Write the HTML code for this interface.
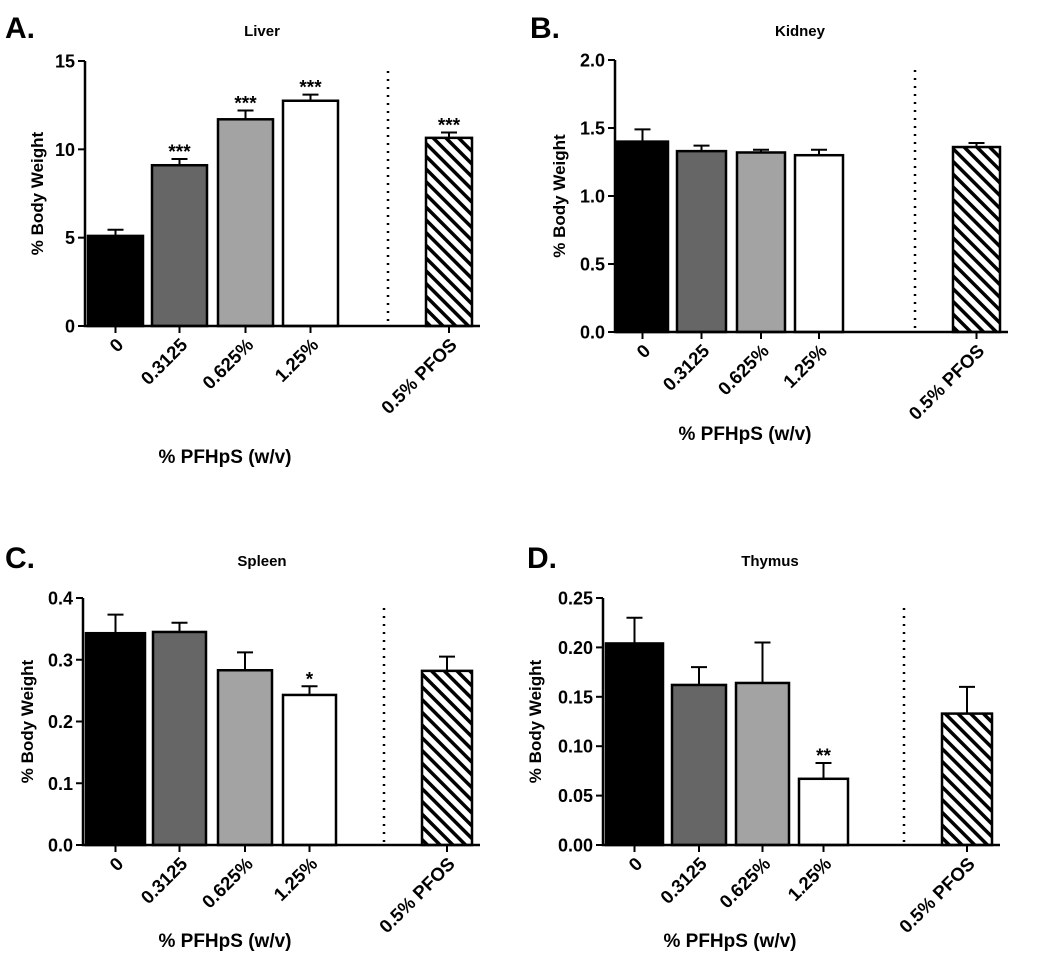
<!DOCTYPE html>
<html><head><meta charset="utf-8"><style>
body{margin:0;background:#fff;}
svg{display:block;font-family:"Liberation Sans",Arial,sans-serif;}
</style></head><body>
<svg id="c" width="1050" height="958" viewBox="0 0 1050 958">
<defs><pattern id="hatch" patternUnits="userSpaceOnUse" width="9" height="9" patternTransform="rotate(-45)"><rect width="9" height="9" fill="#fff"/><rect width="3.5" height="9" fill="#000"/></pattern></defs>
</svg>
<script>
const categories=["0","0.3125","0.625%","1.25%","0.5% PFOS"];
const liverValues=[5.1,9.1,11.7,12.75,10.65];
const liverErrors=[0.35,0.35,0.5,0.35,0.3];
const liverSig=["","***","***","***","***"];
const liverTicks=[0,5,10,15];
const kidneyValues=[1.40,1.33,1.32,1.30,1.36];
const kidneyErrors=[0.09,0.04,0.02,0.04,0.03];
const kidneySig=["","","","",""];
const kidneyTicks=["0.0","0.5","1.0","1.5","2.0"];
const spleenValues=[0.343,0.345,0.283,0.243,0.282];
const spleenErrors=[0.03,0.015,0.029,0.014,0.023];
const spleenSig=["","","","*",""];
const spleenTicks=["0.0","0.1","0.2","0.3","0.4"];
const thymusValues=[0.204,0.162,0.164,0.067,0.133];
const thymusErrors=[0.026,0.018,0.041,0.016,0.027];
const thymusSig=["","","","**",""];
const thymusTicks=["0.00","0.05","0.10","0.15","0.20","0.25"];
const fills=["#000","#666","#a3a3a3","#fff","url(#hatch)"];
const NS="http://www.w3.org/2000/svg";
const svg=document.getElementById('c');
function mk(tag,attrs,parent,text){const e=document.createElementNS(NS,tag);for(const k in attrs)e.setAttribute(k,attrs[k]);if(text!==undefined)e.textContent=text;(parent||svg).appendChild(e);return e;}
const panels=[
 {letter:"A.",lx:5,ly:38,title:"Liver",tx:262,ty:36,ax:85,y0:326,y1:61,max:15,ticks:liverTicks,vals:liverValues,errs:liverErrors,sig:liverSig,bars:[[88,143],[152,207],[218,273],[283,338],[426,472]],dot:388,xt:[225,463]},
 {letter:"B.",lx:530,ly:38,title:"Kidney",tx:800,ty:36,ax:615,y0:332,y1:60,max:2,ticks:kidneyTicks,vals:kidneyValues,errs:kidneyErrors,sig:kidneySig,bars:[[617,668],[677,726],[737,785],[795,843],[953,1000]],dot:915,xt:[745,440]},
 {letter:"C.",lx:5,ly:568,title:"Spleen",tx:262,ty:566,ax:83,y0:845,y1:598,max:0.4,ticks:spleenTicks,vals:spleenValues,errs:spleenErrors,sig:spleenSig,bars:[[86,145],[153,206],[218,272],[283,336],[422,472]],dot:384,xt:[225,947]},
 {letter:"D.",lx:527,ly:568,title:"Thymus",tx:770,ty:566,ax:603,y0:845,y1:598,max:0.25,ticks:thymusTicks,vals:thymusValues,errs:thymusErrors,sig:thymusSig,bars:[[606,663],[672,726],[736,789],[799,848],[942,992]],dot:904,xt:[730,947]}
];
panels.forEach((p,pi)=>{
 const g=mk('g',{});
 
 
 const y=v=>p.y0-(v/p.max)*(p.y0-p.y1);
 const l=mk('text',{x:p.lx,y:p.ly,'font-size':30,'font-weight':'bold'},g,p.letter);
 
 const t=mk('text',{x:p.tx,y:p.ty,'font-size':15,'font-weight':'bold','text-anchor':'middle'},g,p.title);
 
 p.vals.forEach((v,i)=>{
  const [x1,x2]=p.bars[i];const cx=(x1+x2)/2;
  const e=y(v+p.errs[i]);
  const eb=mk('path',{d:`M${cx},${y(v)}V${e}M${cx-8},${e}H${cx+8}`,stroke:'#000','stroke-width':2,fill:'none'},g);
  
  const r=mk('rect',{x:x1,y:y(v),width:x2-x1,height:p.y0-y(v),fill:fills[i],stroke:'#000','stroke-width':2.5},g);
  
  if(p.sig[i]){const s=mk('text',{x:cx,y:e-1,'font-size':19,'font-weight':'bold','text-anchor':'middle'},g,p.sig[i]);
   }
  const tk=mk('line',{x1:cx,x2:cx,y1:p.y0,y2:p.y0+7,stroke:'#000','stroke-width':2},g);
  
  const lx=cx+9,ly=p.y0+20;
  const lb=mk('text',{x:lx,y:ly,'font-size':18.5,'font-weight':'bold','text-anchor':'end',transform:`rotate(-45 ${lx} ${ly})`},g,categories[i]);
  
 });
 const ax=mk('path',{d:`M${p.ax},${p.y1}V${p.y0}H${p.bars[4][1]+8}`,stroke:'#000','stroke-width':2.5,fill:'none'},g);
 
 p.ticks.forEach(tv=>{const yy=y(parseFloat(tv));
  const tk=mk('line',{x1:p.ax-7,x2:p.ax,y1:yy,y2:yy,stroke:'#000','stroke-width':2},g);
  
  const tl=mk('text',{x:p.ax-10,y:yy+6.5,'font-size':18,'font-weight':'bold','text-anchor':'end'},g,String(tv));
  });
 const yt=mk('text',{x:0,y:0,'font-size':17,'font-weight':'bold','text-anchor':'middle',transform:`translate(${p.ax-(pi===3?62:(pi===0?42:50))},${(p.y0+p.y1)/2}) rotate(-90)`},g,'% Body Weight');
 
 const d=mk('line',{x1:p.dot,x2:p.dot,y1:p.y1+10,y2:p.y0,stroke:'#000','stroke-width':2.5,'stroke-dasharray':'2 6'},g);
 
 const xt=mk('text',{x:p.xt[0],y:p.xt[1],'font-size':19,'font-weight':'bold','text-anchor':'middle'},g,'% PFHpS (w/v)');
 
});
</script>
</body></html>
